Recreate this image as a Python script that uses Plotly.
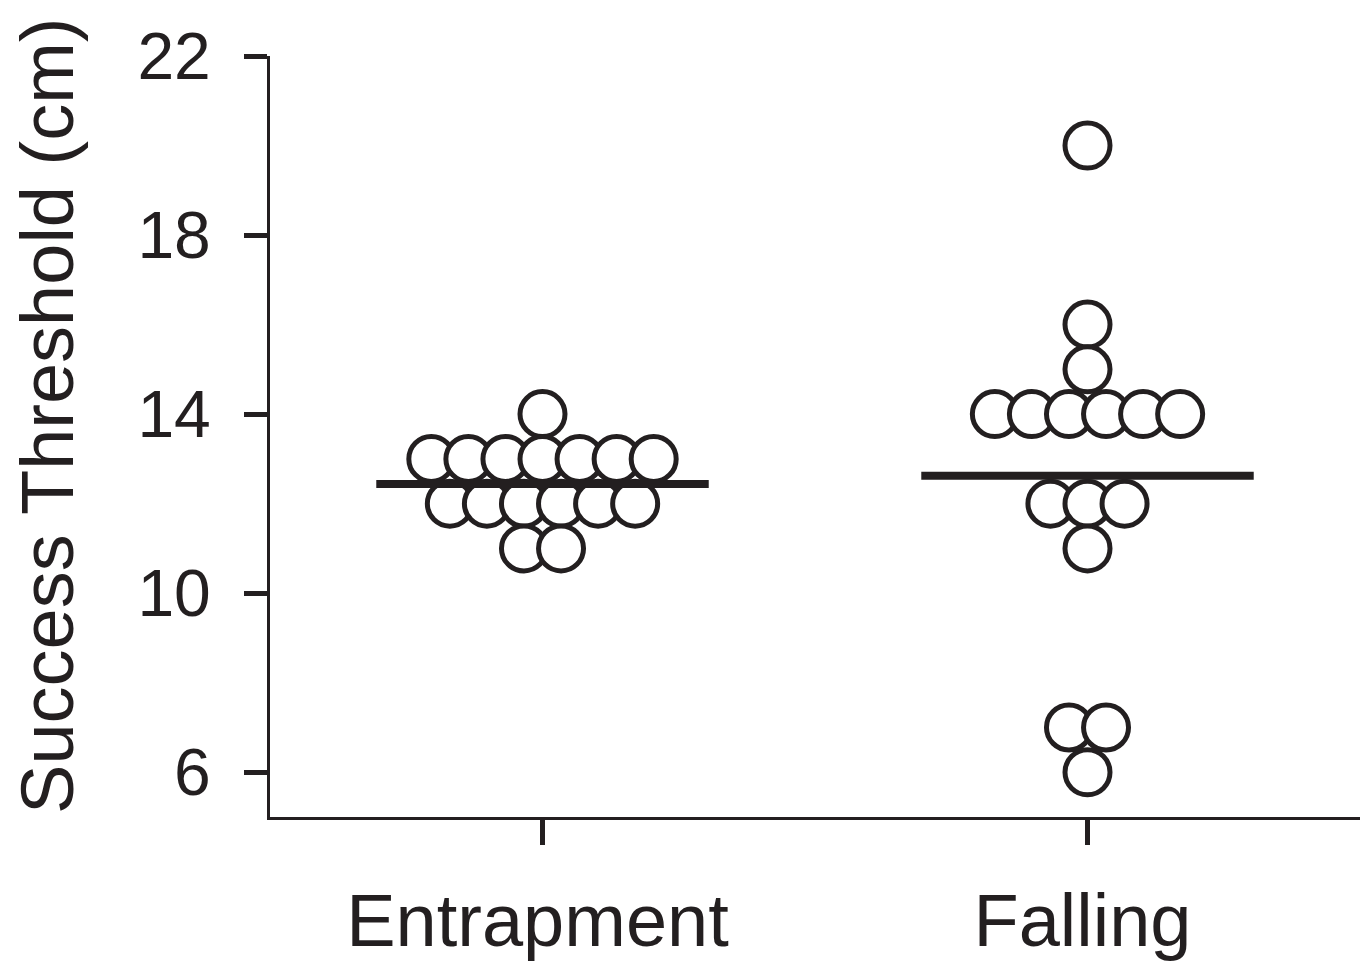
import plotly.graph_objects as go
from collections import Counter

# Success thresholds (cm) per trial, by condition
categories = ["Entrapment", "Falling"]
entrapment = [14, 13, 13, 13, 13, 13, 13, 13, 12, 12, 12, 12, 12, 12, 11, 11]
falling = [20, 16, 15, 14, 14, 14, 14, 14, 14, 12, 12, 12, 11, 7, 7, 6]
y_ticks = [6, 10, 14, 18, 22]

INK = "#231f20"
FONT = "Liberation Sans, Arial, Helvetica, sans-serif"
SPACING = 0.068      # horizontal gap between tied points (x units)
MEAN_HALF = 0.305    # half-width of mean bar (x units)


def swarm(values, center):
    """Spread tied values symmetrically around the category center."""
    counts = Counter(values)
    seen = Counter()
    xs = []
    for v in values:
        n = counts[v]
        i = seen[v]
        seen[v] += 1
        xs.append(center + (i - (n - 1) / 2) * SPACING)
    return xs


fig = go.Figure()
groups = [entrapment, falling]
for idx, vals in enumerate(groups):
    fig.add_trace(go.Scatter(
        x=swarm(vals, idx), y=vals, mode="markers",
        marker=dict(symbol="circle", size=45, color="white",
                    line=dict(color=INK, width=5)),
        showlegend=False, hoverinfo="y",
    ))

for idx, vals in enumerate(groups):
    m = sum(vals) / len(vals)
    fig.add_trace(go.Scatter(
        x=[idx - MEAN_HALF, idx + MEAN_HALF], y=[m, m], mode="lines",
        line=dict(color=INK, width=8), showlegend=False, hoverinfo="skip",
    ))

fig.update_layout(
    width=1365, height=968,
    margin=dict(l=270, r=5, t=56, b=151),
    paper_bgcolor="white", plot_bgcolor="white",
    font=dict(family=FONT, color=INK),
    xaxis=dict(
        range=[-0.5, 1.5], tickvals=[0, 1], ticktext=categories,
        showgrid=False, zeroline=False, showline=True, linecolor=INK,
        linewidth=3, ticks="outside", ticklen=25, tickwidth=5, tickcolor=INK,
        tickfont=dict(size=74, family=FONT, color=INK), ticklabelstandoff=12,
        ticklabelshift=-5, automargin=False,
    ),
    yaxis=dict(
        range=[5, 22], tickvals=y_ticks,
        showgrid=False, zeroline=False, showline=True, linecolor=INK,
        linewidth=3, ticks="outside", ticklen=23, tickwidth=5, tickcolor=INK,
        tickfont=dict(size=66, family=FONT, color=INK), ticklabelstandoff=20,
        automargin=False,
    ),
    annotations=[dict(
        text="Success Threshold (cm)", textangle=-90,
        xref="paper", yref="paper", x=0, y=0.527,
        xanchor="center", yanchor="middle", xshift=-222, showarrow=False,
        font=dict(size=74, family=FONT, color=INK),
    )],
)

fig.write_html("out.html")
